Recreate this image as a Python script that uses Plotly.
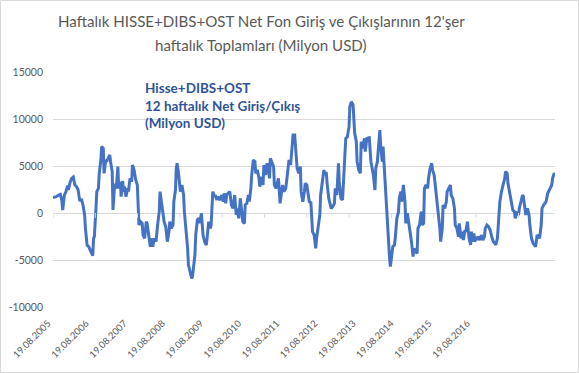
import datetime as dt
import plotly.graph_objects as go

start_date = dt.date(2005, 8, 19)

weeks = [0,4,7,9,11,12,14,16,18,19,21,23,25,27,29,31,33,35,37,39,40,42,44,46,48,49,50,51,53,54,56,57,59,60,62,63,65,66,68,70,71,73,74,76,77,78,80,81,83,84,86,87,88,90,92,93,95,97,98,100,
102,104,106,108,110,111,113,115,116,118,120,121,123,125,127,129,131,132,134,135,137,139,141,143,144,146,148,149,151,152,153,155,156,157,159,161,162,164,166,167,169,171,172,173,175,176,178,180,181,183,184,185,187,189,190,192,194,195,197,199,200,202,203,
206,208,210,211,213,214,216,218,220,222,224,226,227,229,231,232,234,236,237,239,241,242,244,245,247,249,250,252,254,255,257,259,260,262,264,265,267,268,270,272,273,275,277,278,280,282,283,285,287,288,290,291,293,295,296,298,300,301,303,305,306,308,
310,311,313,315,316,318,319,320,322,324,325,327,329,330,332,334,335,337,338,340,342,343,345,347,348,350,352,353,355,357,358,360,361,363,365,366,368,370,371,372,374,375,377,379,380,382,384,385,387,389,390,392,394,395,397,398,400,401,403,404,406,407,408,
410,412,414,415,416,418,419,421,422,424,426,427,429,430,432,434,435,437,439,440,442,444,445,447,449,450,452,454,455,457,458,460,462,463,465,467,468,470,472,473,475,477,478,480,481,483,485,486,488,490,491,493,495,496,498,500,501,503,505,506,508,509,511,513,515,
516,517,519,520,522,523,525,527,528,530,532,533,535,537,539,541,543,545,546,548,550,551,553,555,557,558,560,561,563,565,567,569,570,572,574,575,577,579,580,582,583,585,587,588,590,592,593,595,597,598,600,602,603,605,606,608,610,611,613,615,616,618,619]

net_flow = [1631,1737,1915,1986,1277,319,1900,2270,2908,2447,3262,3688,3830,2979,2800,2447,1277,1490,851,-213,-1631,-3404,-3582,-3936,-4468,-4539,-2695,-2518,496,2270,2624,4220,5638,7057,6880,4220,5638,5461,5815,6170,5461,4397,319,2979,2979,2624,4929,2624,3333,1737,3404,2270,2800,1737,2624,2270,3688,3333,5106,4574,
3511,2979,-1277,-922,-1100,-2340,-2695,-922,-1100,-2695,-3582,-2695,-3582,-2695,-3050,-1277,142,2270,851,496,-922,-1454,-3050,-1986,-922,-1631,-1277,1206,2447,4752,5284,4042,2979,2270,2979,1915,142,-1631,-3759,-5532,-6418,-6950,-6773,-5886,-4468,-2340,-745,-567,-1100,-35,-1631,-2340,-3050,-3404,-2695,-922,-1631,-1277,2270,1737,1915,1383,1737,
1383,1915,1206,2092,1028,1915,2092,2270,851,496,1915,-213,496,-567,1560,496,-922,-1100,851,1028,1915,1206,2624,4042,5638,5461,4220,4574,3688,2800,3865,2979,5106,4042,5284,4929,3688,5815,5461,4929,2979,2624,3333,3688,1028,2624,2979,2270,2624,3333,5106,5638,5106,6880,8298,8298,6347,4752,4220,4929,2270,1206,
2270,3156,2979,1915,1206,1100,-922,-1986,-2340,-3759,-2695,-1631,-213,1915,3333,4574,4220,4220,3156,1560,851,496,674,1028,2624,1915,5284,3333,1560,1383,2979,5993,7943,8120,9184,11311,11843,11489,9361,8475,7588,5461,4574,4220,7588,6880,7943,6525,7943,7943,8014,5461,4397,4042,2447,4752,5461,6525,8830,7234,5461,7057,5461,
2270,-213,-3000,-4823,-5709,-3759,-3582,-3404,-2695,-567,142,1560,2270,1206,2979,1206,-1100,-35,-1100,-1631,-3050,-4645,-3759,-4113,-4290,-1631,-1277,142,-1277,-1100,2624,2979,2624,3688,4752,5284,4574,4042,2447,2092,-213,-1631,-3050,-1631,851,496,1206,2270,2624,2979,1915,1560,496,-1277,-1631,-2518,-1100,-2695,-1986,-2872,-1809,-1986,-922,-2695,-3404,
-1986,-3050,-2163,-3050,-2518,-2872,-2518,-2872,-2340,-2872,-2518,-1631,-1277,-1454,-1809,-2518,-3050,-3227,-3404,-2695,-213,1206,2270,2979,3688,4397,4220,3156,2270,1206,319,142,-567,142,-213,496,1206,1915,1737,674,-213,496,-213,-1277,-2695,-3227,-3404,-3582,-2340,-2518,-2695,-1277,496,851,1028,1206,2092,2270,2624,2979,3688,4220,4100]

tick_labels = ["19.08.2005", "19.08.2006", "19.08.2007", "19.08.2008", "19.08.2009", "19.08.2010",
               "19.08.2011", "19.08.2012", "19.08.2013", "19.08.2014", "19.08.2015", "19.08.2016"]
y_ticks = [-10000, -5000, 0, 5000, 10000, 15000]

title_lines = ["Haftalık HISSE+DIBS+OST Net Fon Giriş ve Çıkışlarının 12'şer",
               "haftalık Toplamları (Milyon USD)"]
series_note = "Hisse+DIBS+OST<br>12 haftalık Net Giriş/Çıkış<br>(Milyon USD)"

label_interval_weeks = 47   # Excel "interval between labels"

dates = [start_date + dt.timedelta(weeks=w) for w in weeks]
label_dates = [start_date + dt.timedelta(weeks=i * label_interval_weeks) for i in range(len(tick_labels))]
mark_dates = [dt.date(2005 + i, 8, 19) for i in range(len(tick_labels))]

grey = "#595959"
grid = "#d9d9d9"

fig = go.Figure()
fig.add_trace(go.Scatter(x=dates, y=net_flow, mode="lines",
                         line=dict(color="#4472c4", width=3), hoverinfo="skip"))

shapes = []
for d in mark_dates:
    shapes.append(dict(type="line", xref="x", yref="y", ysizemode="pixel", yanchor=0,
                       x0=d, x1=d, y0=0, y1=-5, line=dict(color=grid, width=1)))
# chart area border
shapes.append(dict(type="rect", xref="paper", yref="paper",
                   x0=(0.5 - 53) / 502, x1=(578.5 - 53) / 502,
                   y0=(307 - 372.5) / 235, y1=(307 - 0.5) / 235,
                   line=dict(color=grid, width=1)))

fig.update_layout(
    width=579, height=373,
    margin=dict(l=53, r=24, t=72, b=66, autoexpand=False),
    paper_bgcolor="white", plot_bgcolor="white",
    showlegend=False,
    font=dict(family="Lato", color=grey),
    shapes=shapes,
    xaxis=dict(type="date", range=[dates[0], dates[-1]], automargin=False,
               tickvals=label_dates, ticktext=tick_labels, tickangle=-45,
               tickfont=dict(size=9.5, color=grey), showgrid=False, zeroline=False,
               showline=False, ticks="", ticklabelstandoff=8, ticklabelshift=-5),
    yaxis=dict(range=[-10000, 15000], tickvals=y_ticks, ticktext=[str(v) for v in y_ticks],
               automargin=False,
               tickfont=dict(size=10.5, color=grey), showgrid=True, gridcolor=grid, gridwidth=1,
               zeroline=True, zerolinecolor=grid, zerolinewidth=1, showline=False,
               ticklabelstandoff=9),
    annotations=[
        dict(text=title_lines[0], xref="paper", yref="paper", x=(261 - 53) / 502, y=(307 - 21) / 235,
             xanchor="center", yanchor="middle", showarrow=False, font=dict(size=15.1, color=grey)),
        dict(text=title_lines[1], xref="paper", yref="paper", x=(261 - 53) / 502, y=(307 - 45) / 235,
             xanchor="center", yanchor="middle", showarrow=False, font=dict(size=15.1, color=grey)),
        dict(text="<b>" + series_note.replace("<br>", "</b><br><b>") + "</b>", xref="paper", yref="paper",
             x=(143 - 53) / 502, y=(307 - 105) / 235, xanchor="left", yanchor="middle", align="left",
             showarrow=False, font=dict(size=13.5, color="#2f5496")),
    ],
)

fig.write_html("out.html", config={"displayModeBar": False},
               post_script="document.body.style.margin='0';document.body.style.padding='0';")
